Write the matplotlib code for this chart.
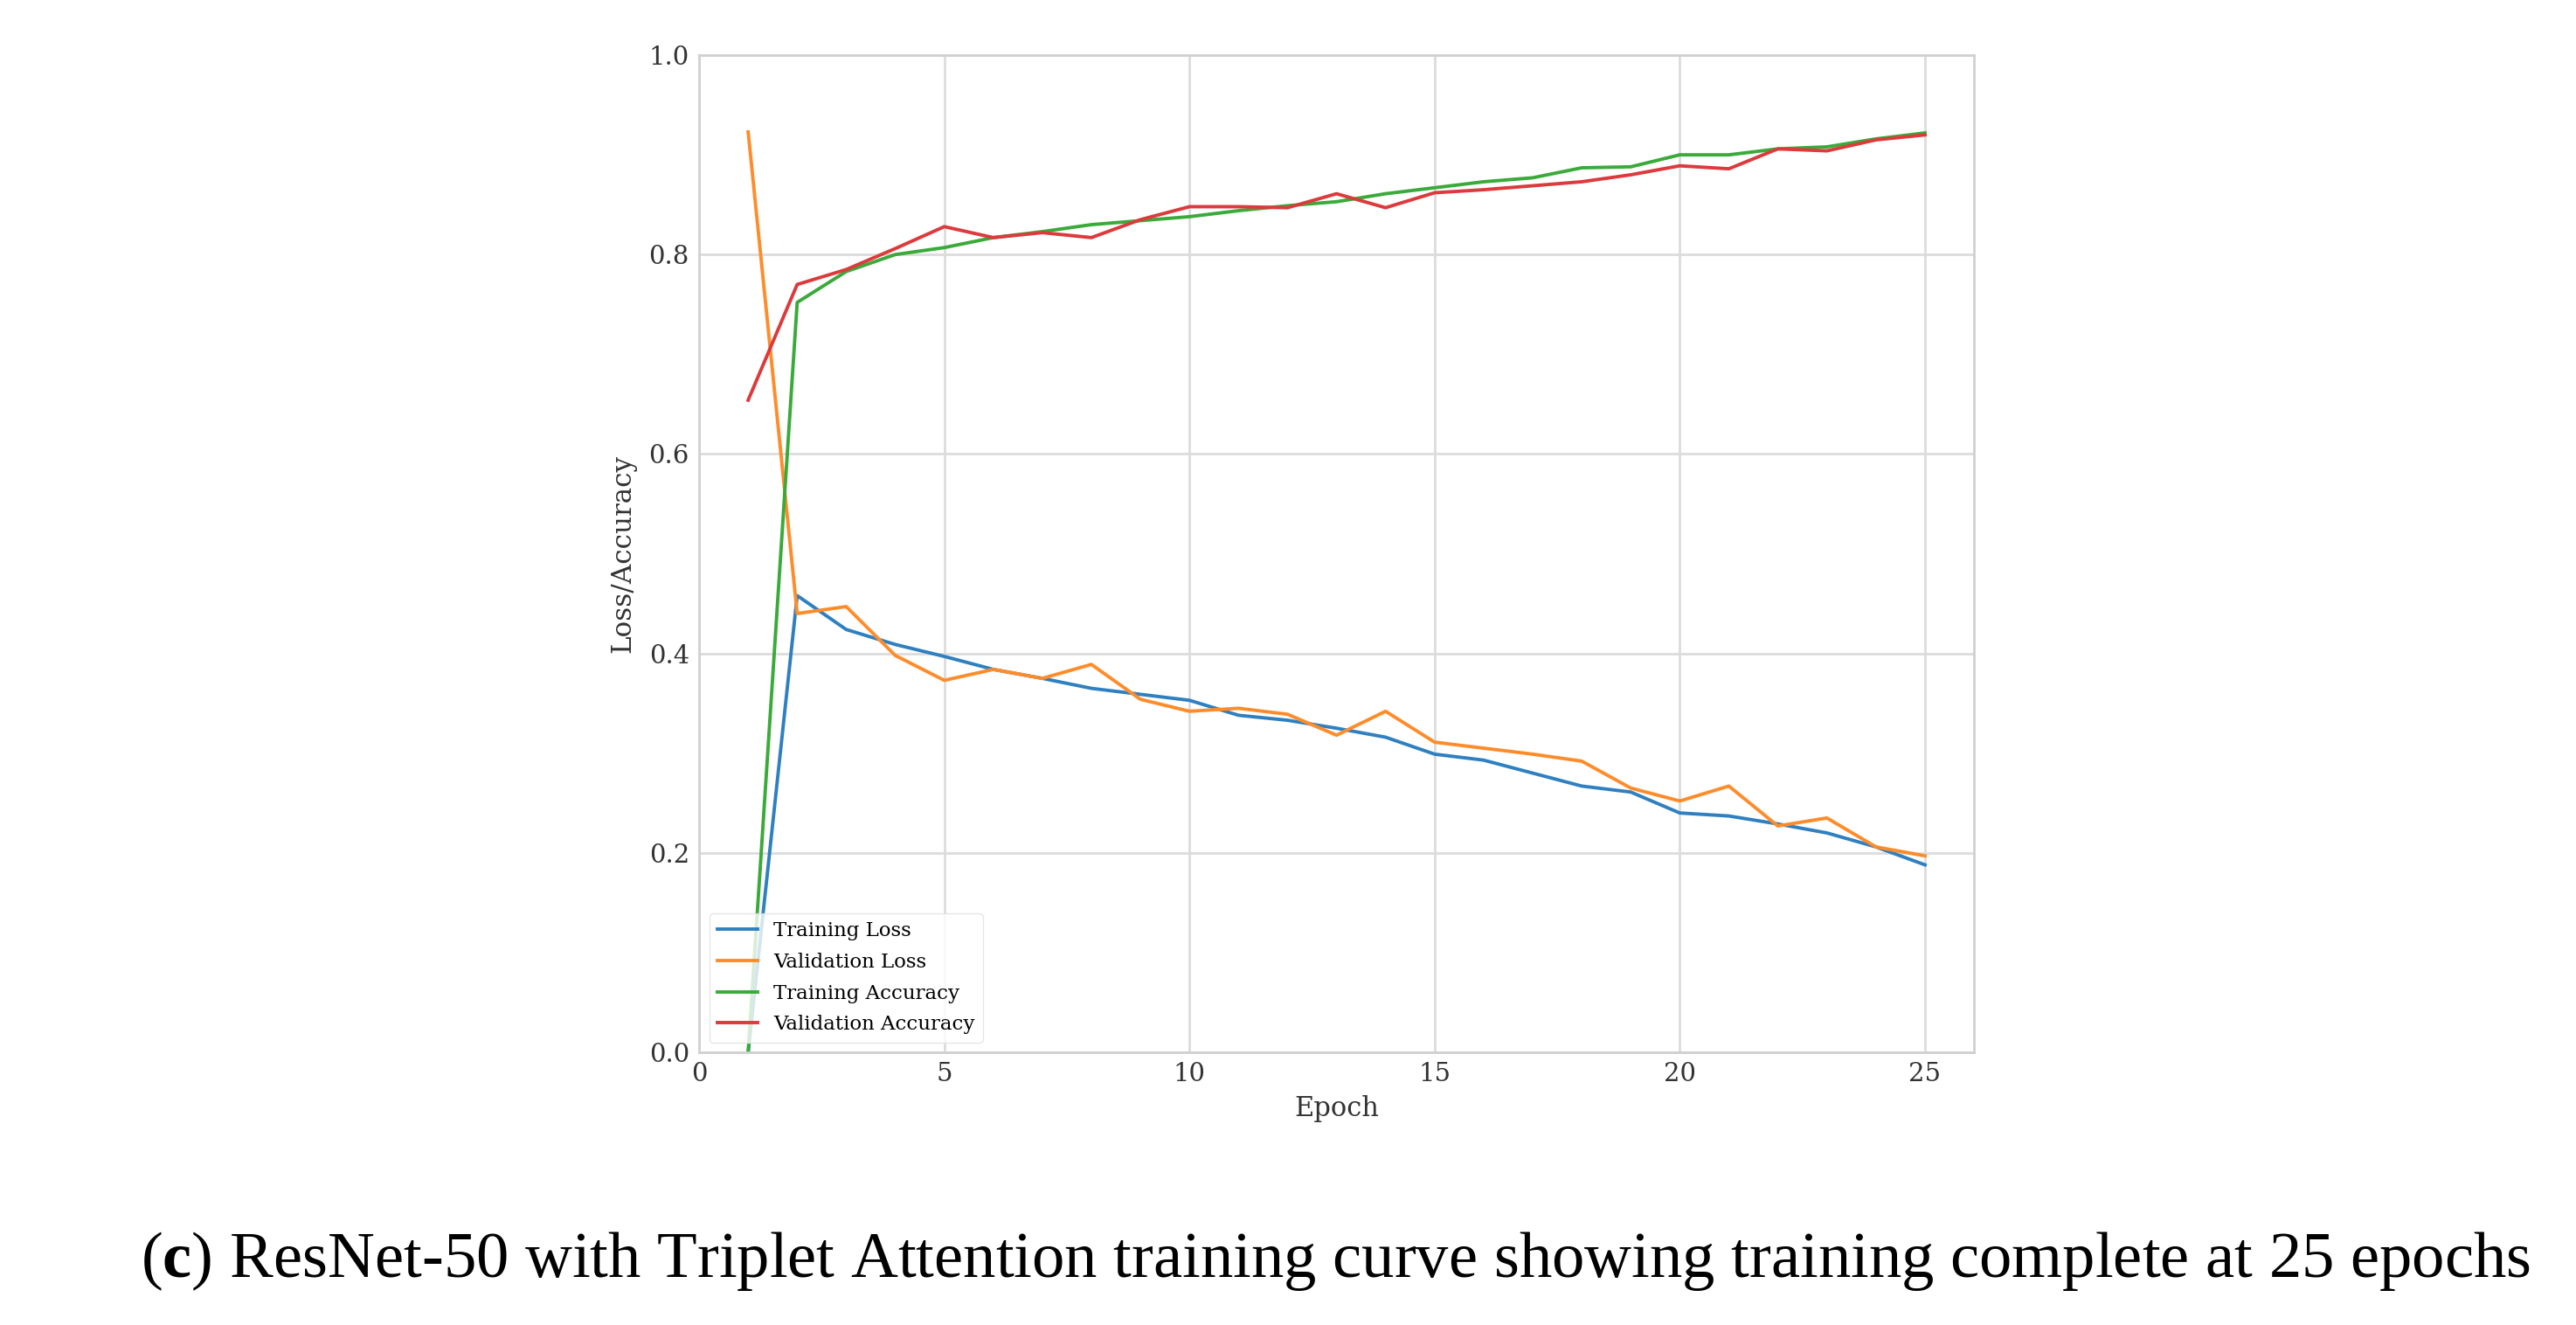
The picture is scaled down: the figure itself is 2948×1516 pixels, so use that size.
import matplotlib
matplotlib.use("Agg")
import matplotlib.pyplot as plt

# values
epochs = list(range(1, 26))
train_loss = [0.0, 0.458, 0.424, 0.409, 0.397, 0.384, 0.375, 0.365, 0.359, 0.353,
              0.338, 0.333, 0.325, 0.316, 0.299, 0.293, 0.280, 0.267, 0.261, 0.240,
              0.237, 0.229, 0.220, 0.206, 0.188]
val_loss = [0.923, 0.440, 0.447, 0.398, 0.373, 0.384, 0.375, 0.389, 0.354, 0.342,
            0.345, 0.339, 0.318, 0.342, 0.311, 0.305, 0.299, 0.292, 0.265, 0.252,
            0.267, 0.227, 0.235, 0.206, 0.197]
train_acc = [0.0, 0.752, 0.783, 0.800, 0.807, 0.817, 0.823, 0.830, 0.834, 0.838,
             0.844, 0.849, 0.853, 0.861, 0.867, 0.873, 0.877, 0.887, 0.888, 0.900,
             0.900, 0.906, 0.908, 0.916, 0.922]
val_acc = [0.654, 0.770, 0.785, 0.806, 0.828, 0.817, 0.822, 0.817, 0.835, 0.848,
           0.848, 0.847, 0.861, 0.847, 0.862, 0.865, 0.869, 0.873, 0.880, 0.889,
           0.886, 0.906, 0.904, 0.915, 0.920]

x_ticks = [0, 5, 10, 15, 20, 25]
y_ticks = [0.0, 0.2, 0.4, 0.6, 0.8, 1.0]
caption = r"($\mathbf{c}$) ResNet-50 with Triplet Attention training curve showing training complete at 25 epochs"

plt.rcParams['font.family'] = 'DejaVu Serif'
plt.rcParams['mathtext.fontset'] = 'custom'
plt.rcParams['mathtext.rm'] = 'Liberation Serif'
plt.rcParams['mathtext.bf'] = 'Liberation Serif:bold'

fig = plt.figure(figsize=(29.48, 15.16), dpi=100)
ax = fig.add_axes([0.2714, 0.2058, 0.4949, 0.7526])

lw = 2.8
ax.plot(epochs, train_loss, color='#2f80c0', lw=lw, label='Training Loss')
ax.plot(epochs, val_loss, color='#ff8c2a', lw=lw, label='Validation Loss')
ax.plot(epochs, train_acc, color='#3aaa3a', lw=lw, label='Training Accuracy')
ax.plot(epochs, val_acc, color='#dc3a3c', lw=lw, label='Validation Accuracy')

ax.set_xlim(0, 26)
ax.set_ylim(0, 1.0)
ax.set_xticks(x_ticks)
ax.set_yticks(y_ticks)
ax.grid(True, color='#dcdcdc', lw=2)
ax.set_axisbelow(True)
for s in ax.spines.values():
    s.set_color('#d0d0d0')
    s.set_linewidth(2)
ax.tick_params(length=0, labelsize=21, colors='#333333', pad=8)

ax.set_xlabel('Epoch', fontsize=22, color='#333333', labelpad=7)
ax.set_ylabel('Loss/Accuracy', fontsize=22.3, color='#333333', labelpad=10)

leg = ax.legend(loc='lower left', fontsize=16.5, framealpha=0.8, labelspacing=0.6,
                edgecolor='#e0e0e0', fancybox=True, handlelength=2.0)

fig.text(0.0545, 1 - 1461 / 1516, caption, fontsize=53.7, family='Liberation Serif',
         ha='left', va='baseline', color='black')

fig.savefig('out.png', dpi=100)
